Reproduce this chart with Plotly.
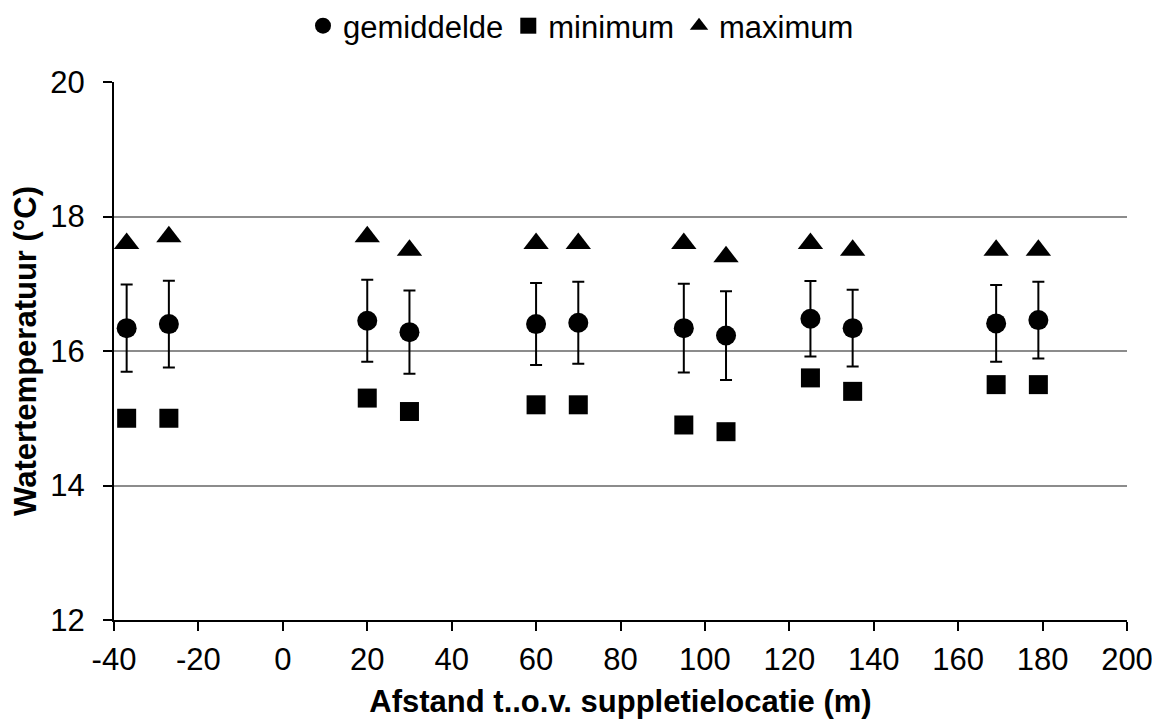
import plotly.graph_objects as go

# Data
afstand = [-37, -27, 20, 30, 60, 70, 95, 105, 125, 135, 169, 179]
gemiddelde = [16.34, 16.40, 16.45, 16.28, 16.40, 16.42, 16.34, 16.23, 16.48, 16.34, 16.41, 16.46]
std = [0.65, 0.645, 0.61, 0.62, 0.61, 0.61, 0.66, 0.66, 0.56, 0.57, 0.57, 0.57]
minimum = [15.0, 15.0, 15.3, 15.1, 15.2, 15.2, 14.9, 14.8, 15.6, 15.4, 15.5, 15.5]
maximum = [17.6, 17.7, 17.7, 17.5, 17.6, 17.6, 17.6, 17.4, 17.6, 17.5, 17.5, 17.5]

x_ticks = [-40, -20, 0, 20, 40, 60, 80, 100, 120, 140, 160, 180, 200]
x_ticklabels = ["-40", "-20", "0", "20", "40", "60", "80", "100", "120", "140", "160", "180", "200"]
y_ticks = [12, 14, 16, 18, 20]
y_ticklabels = ["12", "14", "16", "18", "20"]

FONT = "Liberation Sans, Arial, sans-serif"
FS = 31

fig = go.Figure()
fig.add_trace(go.Scatter(
    x=afstand, y=gemiddelde, mode="markers", name="gemiddelde",
    marker=dict(symbol="circle", size=20, color="black"),
    error_y=dict(type="data", array=std, visible=True, color="black", thickness=2, width=6),
))
fig.add_trace(go.Scatter(
    x=afstand, y=minimum, mode="markers", name="minimum",
    marker=dict(symbol="square", size=19, color="black"),
))
fig.add_trace(go.Scatter(
    x=afstand, y=maximum, mode="markers", name="maximum",
    marker=dict(symbol="triangle-up", size=22, color="black"),
))

fig.update_layout(
    width=1152, height=712,
    paper_bgcolor="white", plot_bgcolor="white",
    margin=dict(l=106, r=33, t=74, b=100, autoexpand=False),
    font=dict(family=FONT, size=FS, color="black"),
    showlegend=True,
    legend=dict(
        orientation="h", xref="paper", yref="paper",
        x=0.461, xanchor="center", y=1.104, yanchor="middle",
        font=dict(size=FS), itemwidth=30, tracegroupgap=0,
        bgcolor="rgba(0,0,0,0)",
    ),
    xaxis=dict(
        range=[-40, 200], tickmode="array", tickvals=x_ticks, ticktext=x_ticklabels,
        showline=True, linecolor="black", linewidth=2,
        ticks="outside", ticklen=9, tickwidth=2, tickcolor="black",
        ticklabelstandoff=2,
        showgrid=False, zeroline=False,
        tickfont=dict(size=FS),
        title=dict(text="<b>Afstand t..o.v. suppletielocatie (m)</b>", font=dict(size=FS), standoff=14),
    ),
    yaxis=dict(
        range=[12, 20], tickmode="array", tickvals=y_ticks, ticktext=y_ticklabels,
        showline=True, linecolor="black", linewidth=2,
        ticks="outside", ticklen=9, tickwidth=2, tickcolor="black",
        ticklabelstandoff=12,
        showgrid=True, gridcolor="#8c8c8c", gridwidth=2, zeroline=False,
        tickfont=dict(size=FS),
        title=dict(text="<b>Watertemperatuur (°C)</b>", font=dict(size=FS), standoff=12),
    ),
)

fig.write_html("out.html")
